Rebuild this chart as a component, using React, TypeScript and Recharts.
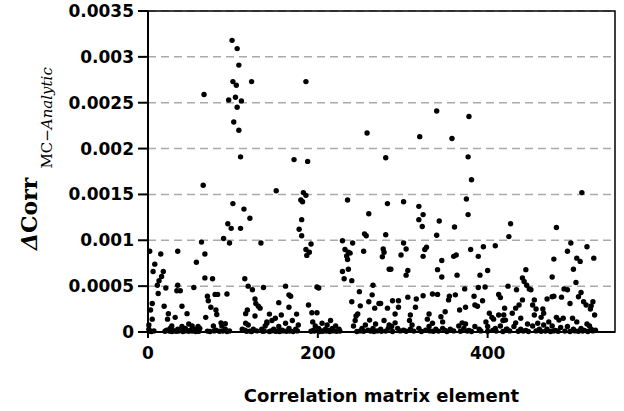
import React from 'react';
import { ScatterChart, Scatter, XAxis, YAxis, CartesianGrid, ReferenceArea } from 'recharts';

// [matrix element index, ΔCorr in units of 1e-4]
const peakPoints: [number, number][] = [
  [99, 31.8], [105, 30.9], [107, 29.1], [100, 27.3], [104, 26.9], [122, 27.3], [66, 25.9], [95, 25.3],
  [103, 25.6], [110, 25.2], [105, 24.5], [101, 22.9], [107, 22.0], [109, 19.1], [186, 27.3], [65, 16.0],
  [151, 15.4], [172, 18.8], [188, 18.6], [258, 21.7], [183, 15.2], [186, 14.9], [180, 14.4], [182, 14.2],
  [235, 14.4], [100, 14.0], [113, 13.4], [120, 12.4], [94, 11.8], [98, 11.3], [109, 11.3], [181, 12.25],
  [178, 11.2], [260, 12.9], [340, 24.1], [378, 23.5], [320, 21.3], [358, 21.1], [280, 19.0], [377, 19.1],
  [381, 16.6], [511, 15.2], [375, 14.5], [282, 14.0], [301, 14.2], [319, 13.7], [324, 12.8], [319, 12.25],
  [323, 11.5], [343, 12.1], [377, 12.8], [361, 11.45], [427, 11.8], [481, 11.4],
];

const leftPoints: [number, number][] = [
  [89, 10.2], [96, 9.7], [63, 9.8], [133, 9.7], [2, 8.8], [15, 8.5], [35, 8.8], [67, 8.5], [57, 7.6],
  [8, 7.4], [6, 6.6], [18, 6.6], [16, 6.05], [13, 5.6], [11, 5.1], [21, 4.8], [67, 5.9], [76, 5.8],
  [114, 5.8], [35, 5.1], [54, 4.85], [136, 4.85], [123, 4.6], [118, 5.0], [12, 4.2], [34, 4.5], [38, 4.5],
  [93, 4.15], [79, 4.1], [82, 4.1], [70, 3.9], [71, 3.4], [126, 3.6], [127, 3.1], [130, 2.8], [132, 2.6],
  [5, 3.1], [19, 2.8], [40, 2.8], [74, 2.7], [80, 2.4], [117, 2.4], [3, 2.4], [24, 2.0], [46, 2.0],
  [81, 1.9], [68, 1.6], [126, 1.75], [115, 2.0], [5, 1.4], [32, 1.6], [23, 1.4], [86, 1.0], [91, 0.9],
  [115, 0.95], [118, 0.77], [140, 1.1], [138, 0.65], [1, 0.77], [28, 0.65], [40, 0.6], [48, 0.87],
  [52, 0.65], [59, 0.6], [77, 0.65], [87, 0.65], [44, 0.4], [26, 0.4], [35, 0.3], [56, 0.3], [61, 0.4],
  [91, 0.3], [111, 0.3], [124, 0.3], [134, 0.3], [1, 0.3], [22, 0.2], [38, 0.2], [50, 0.2], [80, 0.2], [114, 0.2],
];

const midPoints: [number, number][] = [
  [181, 10.5], [192, 9.6], [186, 9.0], [190, 8.7], [187, 8.35], [255, 10.7], [257, 10.5], [280, 10.6],
  [254, 8.8], [229, 9.95], [241, 9.7], [232, 9.0], [236, 8.7], [234, 8.3], [238, 8.6], [235, 7.9],
  [277, 9.05], [278, 8.7], [276, 8.2], [284, 6.85], [229, 6.6], [236, 6.85], [231, 5.8], [240, 5.6],
  [162, 5.0], [199, 4.9], [201, 4.8], [166, 4.05], [168, 3.9], [154, 3.2], [166, 2.7], [189, 2.95],
  [193, 2.1], [199, 2.1], [157, 1.85], [175, 1.95], [143, 1.95], [150, 1.5], [170, 1.25], [146, 1.25],
  [140, 0.95], [162, 0.95], [177, 0.77], [194, 1.1], [197, 0.65], [205, 0.95], [211, 0.77], [215, 1.25],
  [221, 0.65], [201, 0.4], [209, 0.3], [217, 0.4], [225, 0.3], [154, 0.6], [166, 0.4], [174, 0.3],
  [148, 0.3], [158, 0.2], [195, 0.2], [213, 0.18], [245, 1.75], [247, 1.97], [244, 1.25], [242, 0.65],
  [252, 0.4], [250, 2.85], [240, 3.3], [260, 3.3], [249, 4.4], [265, 5.1], [264, 4.05], [267, 2.6],
  [272, 3.1], [274, 3.1], [282, 2.6], [261, 1.3], [268, 0.87], [278, 1.25], [256, 0.77], [265, 0.4],
  [274, 0.3], [283, 0.4], [259, 0.2], [284, 0.77],
];

const centerPoints: [number, number][] = [
  [340, 10.55], [301, 9.7], [304, 9.05], [298, 8.4], [328, 9.25], [326, 9.0], [324, 8.25], [360, 8.25],
  [363, 8.4], [346, 7.8], [380, 9.0], [389, 8.25], [395, 9.3], [409, 9.4], [286, 6.85], [306, 6.7],
  [304, 6.2], [341, 6.8], [346, 6.0], [364, 6.2], [391, 6.2], [400, 6.7], [373, 4.7], [389, 4.85],
  [397, 4.9], [424, 5.0], [413, 4.1], [415, 3.75], [335, 4.15], [341, 4.1], [324, 3.95], [355, 3.9],
  [354, 3.5], [362, 4.05], [316, 3.6], [306, 3.8], [295, 3.4], [288, 3.4], [295, 2.7], [315, 2.7],
  [384, 3.9], [394, 3.4], [385, 2.95], [388, 2.8], [367, 2.4], [374, 2.7], [350, 2.2], [331, 1.97],
  [345, 1.67], [309, 1.86], [291, 1.97], [420, 2.6], [413, 1.86], [402, 2.05], [405, 1.6], [407, 1.4],
  [398, 1.1], [418, 1.25], [421, 1.3], [308, 1.25], [329, 1.4], [347, 1.1], [335, 0.95], [370, 1.0],
  [374, 0.87], [291, 1.0], [287, 0.6], [294, 0.4], [311, 0.77], [309, 0.3], [319, 0.4], [331, 0.6],
  [339, 0.3], [347, 0.4], [356, 0.3], [366, 0.65], [372, 0.4], [385, 0.6], [390, 0.3], [400, 0.6],
  [409, 0.4], [415, 0.65], [422, 0.3], [301, 0.2], [327, 0.2], [350, 0.18], [378, 0.18], [406, 0.18],
];

const rightPoints: [number, number][] = [
  [425, 10.4], [498, 9.7], [494, 8.8], [517, 9.3], [478, 7.95], [505, 8.05], [509, 7.7], [525, 8.05],
  [501, 6.85], [445, 6.8], [476, 6.0], [504, 5.4], [441, 5.9], [443, 5.5], [446, 5.1], [449, 4.7],
  [434, 4.6], [451, 4.6], [490, 4.7], [494, 4.6], [478, 3.9], [476, 3.85], [487, 3.8], [510, 4.3],
  [507, 3.85], [513, 3.3], [524, 3.3], [522, 2.85], [521, 2.5], [526, 1.86], [516, 2.95], [497, 3.1],
  [470, 3.6], [441, 3.5], [437, 2.95], [433, 2.6], [455, 3.5], [453, 2.95], [457, 2.5], [465, 2.5],
  [466, 2.05], [455, 1.86], [429, 2.05], [419, 1.86], [439, 1.5], [463, 1.6], [481, 1.6], [489, 1.5],
  [484, 1.3], [472, 1.1], [500, 1.5], [505, 1.1], [433, 1.0], [447, 0.87], [459, 0.95], [466, 0.77],
  [517, 0.87], [520, 0.65], [431, 0.6], [453, 0.65], [476, 0.65], [486, 0.5], [494, 0.6], [510, 0.4],
  [423, 0.3], [439, 0.3], [461, 0.3], [470, 0.3], [501, 0.3], [522, 0.3], [527, 0.2], [445, 0.18],
  [480, 0.18], [514, 0.18],
];

// points sitting almost on the zero line
const baselinePoints: [number, number][] = [
  [2, 0.1], [4, 0.05], [7, 0.12], [20, 0.08], [25, 0.1], [28, 0.05], [30, 0.14], [33, 0.08], [36, 0.1],
  [41, 0.06], [44, 0.12], [48, 0.08], [52, 0.1], [56, 0.05], [58, 0.12], [60, 0.08], [70, 0.1], [73, 0.06],
  [78, 0.12], [84, 0.08], [88, 0.1], [93, 0.05], [96, 0.12], [116, 0.08], [120, 0.1], [122, 0.05],
  [128, 0.12], [135, 0.08], [137, 0.1], [143, 0.06], [145, 0.12], [150, 0.08], [152, 0.1], [155, 0.05],
  [159, 0.12], [163, 0.08], [167, 0.1], [171, 0.06], [176, 0.12], [192, 0.08], [196, 0.1], [202, 0.05],
  [204, 0.12], [206, 0.08], [210, 0.1], [214, 0.06], [218, 0.12], [222, 0.08], [226, 0.1], [246, 0.05],
  [250, 0.12], [254, 0.08], [262, 0.1], [266, 0.06], [270, 0.12], [275, 0.08], [280, 0.1], [288, 0.05],
  [297, 0.12], [304, 0.08], [313, 0.1], [322, 0.06], [332, 0.12], [336, 0.08], [342, 0.1], [352, 0.05],
  [360, 0.12], [368, 0.08], [376, 0.1], [381, 0.06], [392, 0.12], [400, 0.08], [410, 0.1], [418, 0.05],
  [426, 0.12], [436, 0.08], [442, 0.1], [448, 0.06], [457, 0.12], [463, 0.08], [468, 0.1], [474, 0.05],
  [478, 0.12], [483, 0.08], [491, 0.1], [497, 0.06], [503, 0.12], [507, 0.08], [512, 0.1], [518, 0.05],
  [524, 0.12],
];

const xTicks = [0, 200, 400];
const yTicks = [0, 0.0005, 0.001, 0.0015, 0.002, 0.0025, 0.003, 0.0035];

const data = [...peakPoints, ...leftPoints, ...midPoints, ...centerPoints, ...rightPoints, ...baselinePoints].map(
  ([x, v]) => ({ x, y: v * 1e-4 })
);

const tickStyle = { fill: '#000', fontSize: 17, fontWeight: 700, fontFamily: 'DejaVu Sans' };

const Dot = (props: any) => <circle cx={props.cx} cy={props.cy} r={2.7} fill="#000" />;

const YTitle = () => (
  <text transform="rotate(-90)" x={-250} y={37} fill="#000" fontFamily="DejaVu Serif">
    <tspan fontSize={22} fontWeight={700} fontStyle="italic">Δ</tspan>
    <tspan fontSize={22} fontWeight={700}>Corr</tspan>
    <tspan fontSize={15} dx={9} dy={15}>MC−</tspan>
    <tspan fontSize={15} fontStyle="italic">Analytic</tspan>
  </text>
);

const XTitle = () => (
  <text x={381.5} y={402} textAnchor="middle" fill="#000" fontFamily="DejaVu Sans" fontWeight={700} fontSize={18}>
    Correlation matrix element
  </text>
);

export default function App() {
  return (
    <div style={{ position: 'absolute', left: 0, top: 0, background: '#fff' }}>
      <ScatterChart width={624} height={411} margin={{ top: 11, right: 9, bottom: 0, left: 0 }}>
        <CartesianGrid vertical={false} stroke="#aaa" strokeWidth={1.5} strokeDasharray="8 5" />
        <XAxis
          type="number"
          dataKey="x"
          domain={[0, 550]}
          ticks={xTicks}
          height={79}
          tick={tickStyle}
          tickSize={6}
          tickMargin={9}
          axisLine={{ stroke: '#000', strokeWidth: 2 }}
          tickLine={{ stroke: '#000', strokeWidth: 2 }}
          label={<XTitle />}
        />
        <YAxis
          type="number"
          dataKey="y"
          domain={[0, 0.0035]}
          ticks={yTicks}
          width={148}
          tick={tickStyle}
          tickSize={10}
          tickMargin={4}
          axisLine={{ stroke: '#000', strokeWidth: 2 }}
          tickLine={{ stroke: '#000', strokeWidth: 2 }}
          label={<YTitle />}
        />
        <ReferenceArea x1={0} x2={550} y1={0} y2={0.0035} fill="none" stroke="#000" strokeWidth={1.5} />
        <Scatter data={data} shape={Dot} isAnimationActive={false} />
      </ScatterChart>
    </div>
  );
}
